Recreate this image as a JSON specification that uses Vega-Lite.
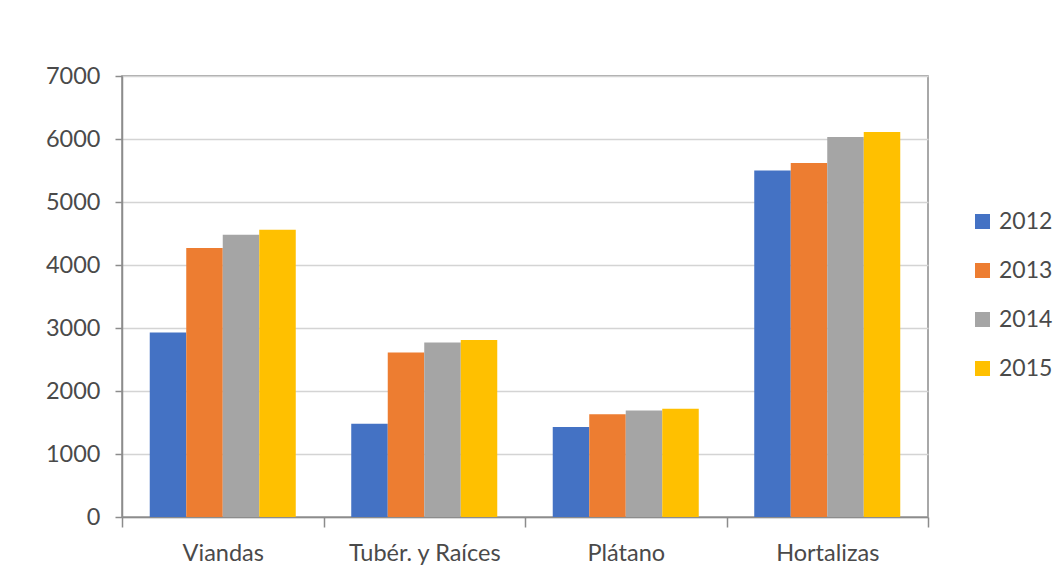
{
  "$schema": "https://vega.github.io/schema/vega-lite/v6.json",
  "autosize": {"type": "none"},
  "width": 806,
  "height": 441,
  "padding": {"left": 122, "top": 76, "right": 135, "bottom": 57},
  "background": "white",
  "data": {
    "values": [
      {"categoria": "Viandas", "anio": "2012", "valor": 2930},
      {"categoria": "Viandas", "anio": "2013", "valor": 4270},
      {"categoria": "Viandas", "anio": "2014", "valor": 4480},
      {"categoria": "Viandas", "anio": "2015", "valor": 4560},
      {"categoria": "Tubér. y Raíces", "anio": "2012", "valor": 1480},
      {"categoria": "Tubér. y Raíces", "anio": "2013", "valor": 2610},
      {"categoria": "Tubér. y Raíces", "anio": "2014", "valor": 2770},
      {"categoria": "Tubér. y Raíces", "anio": "2015", "valor": 2810},
      {"categoria": "Plátano", "anio": "2012", "valor": 1430},
      {"categoria": "Plátano", "anio": "2013", "valor": 1630},
      {"categoria": "Plátano", "anio": "2014", "valor": 1690},
      {"categoria": "Plátano", "anio": "2015", "valor": 1720},
      {"categoria": "Hortalizas", "anio": "2012", "valor": 5500},
      {"categoria": "Hortalizas", "anio": "2013", "valor": 5620},
      {"categoria": "Hortalizas", "anio": "2014", "valor": 6030},
      {"categoria": "Hortalizas", "anio": "2015", "valor": 6110}
    ]
  },
  "mark": {"type": "bar"},
  "encoding": {
    "x": {
      "field": "categoria",
      "type": "nominal",
      "sort": ["Viandas", "Tubér. y Raíces", "Plátano", "Hortalizas"],
      "scale": {"paddingInner": 0, "paddingOuter": 0},
      "axis": {
        "title": null,
        "labelAngle": 0,
        "tickBand": "extent",
        "tickSize": 10,
        "labelPadding": 14,
        "grid": false
      }
    },
    "xOffset": {
      "field": "anio",
      "type": "nominal",
      "scale": {"paddingInner": 0, "paddingOuter": 0.76}
    },
    "y": {
      "field": "valor",
      "type": "quantitative",
      "scale": {"domain": [0, 7000], "nice": false},
      "axis": {
        "title": null,
        "values": [0, 1000, 2000, 3000, 4000, 5000, 6000, 7000],
        "format": "d",
        "tickSize": 7,
        "labelPadding": 15,
        "grid": true
      }
    },
    "color": {
      "field": "anio",
      "type": "nominal",
      "scale": {
        "domain": ["2012", "2013", "2014", "2015"],
        "range": ["#4472C4", "#ED7D31", "#A5A5A5", "#FFC000"]
      },
      "legend": {
        "title": null,
        "orient": "none",
        "legendX": 849,
        "legendY": 134,
        "symbolType": "square",
        "symbolSize": 225,
        "symbolStrokeWidth": 0,
        "labelOffset": 5,
        "rowPadding": 25,
        "padding": 0
      }
    }
  },
  "config": {
    "font": "Lato",
    "view": {"stroke": "#8c8c8c", "strokeWidth": 1.5},
    "axis": {
      "labelFont": "Lato",
      "labelFontSize": 23.5,
      "labelColor": "#4a4a4a",
      "domainColor": "#8c8c8c",
      "domainWidth": 1.5,
      "tickColor": "#8c8c8c",
      "tickWidth": 1.5,
      "gridColor": "#d4d4d4",
      "gridWidth": 1.5
    },
    "legend": {
      "labelFont": "Lato",
      "labelFontSize": 23,
      "labelColor": "#4a4a4a"
    }
  }
}
